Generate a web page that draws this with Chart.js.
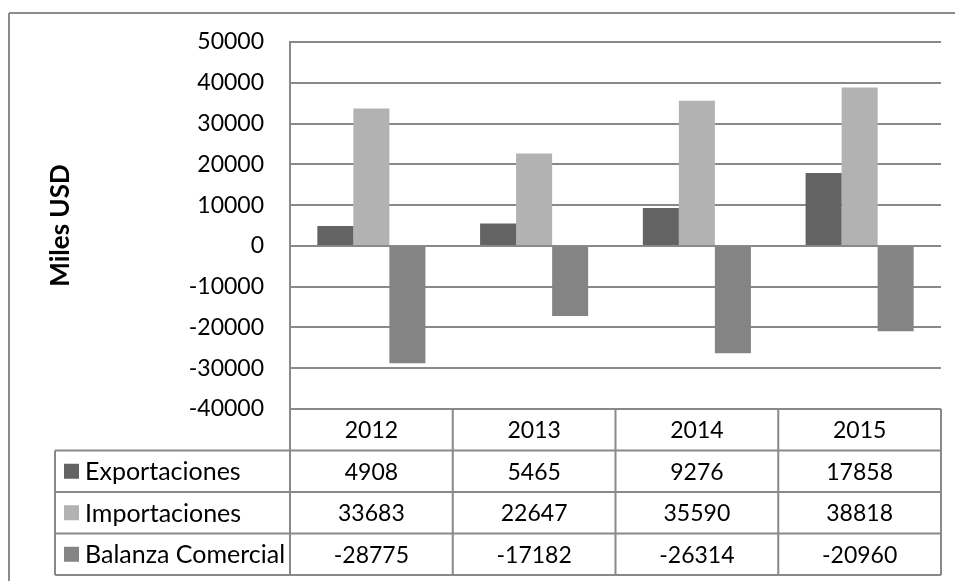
<!DOCTYPE html>
<html>
<head>
<meta charset="utf-8">
<script src="https://cdn.jsdelivr.net/npm/chart.js@4"></script>
<style>
html,body{margin:0;padding:0;background:#fff;}
canvas{display:block;}
</style>
</head>
<body>
<canvas id="c" width="955" height="581"></canvas>
<script>
const categories = ['2012', '2013', '2014', '2015'];
const exportaciones = [4908, 5465, 9276, 17858];
const importaciones = [33683, 22647, 35590, 38818];
const balanzaComercial = [-28775, -17182, -26314, -20960];
const seriesNames = ['Exportaciones', 'Importaciones', 'Balanza Comercial'];
const yMin = -40000, yMax = 50000, yStep = 10000;
const yTitle = 'Miles USD';

const colors = ['#636363', '#b2b2b2', '#848484'];
const FONT = 'Lato, "Open Sans", sans-serif';
const FS = 25;      // text labels
const FSN = 23;     // numbers
const GRID = '#898989';

const tablePlugin = {
  id: 'dataTable',
  afterDraw(chart) {
    const ctx = chart.ctx;
    const x = chart.scales.x;
    const area = chart.chartArea;
    const n = categories.length;
    const cw = (x.right - x.left) / n;
    const top = area.bottom;
    const rowH = 41.5;
    const legendLeft = 55;
    const series = [exportaciones, importaciones, balanzaComercial];
    ctx.save();
    ctx.strokeStyle = '#8c8c8c';
    ctx.lineWidth = 2;
    ctx.beginPath();
    ctx.moveTo(9, 13); ctx.lineTo(955, 13);
    ctx.moveTo(9, 13); ctx.lineTo(9, 581);
    ctx.stroke();

    ctx.strokeStyle = GRID;
    ctx.lineWidth = 2;
    ctx.beginPath();
    ctx.moveTo(x.left, top + rowH); ctx.lineTo(x.right, top + rowH);
    for (let r = 1; r <= 3; r++) {
      const yy = top + rowH * (r + 1);
      ctx.moveTo(legendLeft, yy); ctx.lineTo(x.right, yy);
    }
    ctx.moveTo(legendLeft, top + rowH); ctx.lineTo(x.left, top + rowH);
    ctx.moveTo(legendLeft, top + rowH); ctx.lineTo(legendLeft, top + rowH * 4);
    for (let i = 0; i <= n; i++) {
      const xx = x.left + i * cw;
      ctx.moveTo(xx, top); ctx.lineTo(xx, top + rowH * 4);
    }
    ctx.stroke();

    ctx.fillStyle = '#000';
    ctx.font = FSN + 'px ' + FONT;
    ctx.textAlign = 'center';
    ctx.textBaseline = 'middle';
    for (let i = 0; i < n; i++) {
      const cx = x.getPixelForValue(i);
      ctx.fillText(categories[i], cx, top + rowH * 0.5 + 1);
      for (let s = 0; s < 3; s++) {
        ctx.fillText(String(series[s][i]), cx, top + rowH * (s + 1.5) + 1);
      }
    }
    ctx.font = FS + 'px ' + FONT;
    ctx.textAlign = 'left';
    for (let s = 0; s < 3; s++) {
      const cy = top + rowH * (s + 1.5);
      ctx.fillStyle = colors[s];
      ctx.fillRect(64, cy - 7.5, 15, 15);
      ctx.fillStyle = '#000';
      ctx.fillText(seriesNames[s], 85, cy + 1);
    }
    ctx.restore();
  }
};

const bgPlugin = {
  id: 'bg',
  beforeDraw(chart) {
    const ctx = chart.ctx;
    ctx.save();
    ctx.fillStyle = '#fff';
    ctx.fillRect(0, 0, chart.width, chart.height);
    ctx.restore();
  }
};

new Chart(document.getElementById('c'), {
  type: 'bar',
  data: {
    labels: categories,
    datasets: [
      { label: seriesNames[0], data: exportaciones, backgroundColor: colors[0] },
      { label: seriesNames[1], data: importaciones, backgroundColor: colors[1] },
      { label: seriesNames[2], data: balanzaComercial, backgroundColor: colors[2] }
    ]
  },
  options: {
    responsive: false,
    animation: false,
    devicePixelRatio: 1,
    layout: { padding: { top: 42, right: 14, bottom: 172, left: 0 } },
    datasets: { bar: { categoryPercentage: 0.664, barPercentage: 1.0, borderWidth: 0 } },
    plugins: { legend: { display: false }, tooltip: { enabled: false } },
    scales: {
      x: {
        grid: { display: false, drawTicks: false },
        border: { display: false },
        ticks: { display: false },
        afterFit(scale) { scale.height = 0; }
      },
      y: {
        min: yMin, max: yMax,
        ticks: { stepSize: yStep, color: '#000', font: { family: FONT, size: FSN }, padding: 26,
                 callback: (v) => String(v) },
        grid: { color: GRID, lineWidth: 2, drawTicks: false },
        border: { display: true, color: GRID, width: 2 },
        title: { display: true, text: yTitle, color: '#000', font: { family: FONT, size: 26, weight: 'bold' }, padding: { top: 45, bottom: 0 } },
        afterFit(scale) { scale.width = 290; }
      }
    }
  },
  plugins: [bgPlugin, tablePlugin]
});
</script>
</body>
</html>
